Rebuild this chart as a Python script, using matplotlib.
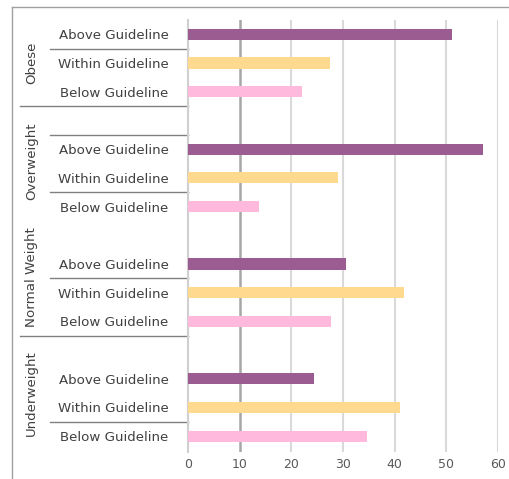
import matplotlib
matplotlib.use("Agg")
import matplotlib.pyplot as plt
import matplotlib.transforms as mtransforms
from matplotlib.lines import Line2D

# data, top to bottom as in the chart
groups = ["Obese", "Overweight", "Normal Weight", "Underweight"]
levels = ["Above Guideline", "Within Guideline", "Below Guideline"]
obese = [51, 27.4, 22]
overweight = [57, 29, 13.7]
normal = [30.6, 41.8, 27.6]
underweight = [24.4, 41, 34.6]
xticks = [0, 10, 20, 30, 40, 50, 60]

colors = ["#9b5c91", "#ffd98e", "#ffb9dc"]
txt = "#404040"

fig = plt.figure(figsize=(5.09, 4.79), dpi=100)
ax = fig.add_axes([0.3694, 0.0564, 0.6090, 0.9018])

# slots from bottom: 3 bars per group plus one empty slot between groups
ypos = []
labels = []
vals = []
cols = []
slot = 14
for g, v in zip(groups, [obese, overweight, normal, underweight]):
    for i in range(3):
        ypos.append(slot)
        labels.append(levels[i])
        vals.append(v[i])
        cols.append(colors[i])
        slot -= 1
    slot -= 1

ax.barh(ypos, vals, height=0.39, color=cols, zorder=3)
ax.set_ylim(-0.55, 14.5)
ax.set_xlim(0, 60)
ax.set_xticks(xticks)
ax.set_yticks(ypos)
ax.set_yticklabels(labels, fontsize=9.6, color=txt)
ax.tick_params(axis="y", length=0, pad=14)
ax.tick_params(axis="x", length=0, pad=4, labelsize=9, labelcolor="#595959")
for s in ["top", "right", "bottom"]:
    ax.spines[s].set_visible(False)
ax.spines["left"].set_color("#d0d0d0")
ax.spines["left"].set_linewidth(1.5)
ax.grid(axis="x", color="#d9d9d9", linewidth=1.5, zorder=0)
ax.set_axisbelow(True)
gl = ax.get_xgridlines()
gl[1].set_color("#a6a6a6")
gl[1].set_linewidth(1.8)

# group labels and separators in the label area
trans = mtransforms.blended_transform_factory(ax.transAxes, ax.transData)
group_y = [13.02, 9.57, 5.55, 1.5]
for g, gy in zip(groups, group_y):
    ax.text(-0.505, gy, g, transform=trans, rotation=90, ha="center",
            va="center", fontsize=9.6, color=txt)

short_lines = [13.5, 10.5, 8.5, 5.5, 0.5]
long_lines = [11.5, 3.5]
for yl in short_lines:
    ax.plot([-0.445, 0], [yl, yl], transform=trans, color="#808080",
            linewidth=1, clip_on=False)
for yl in long_lines:
    ax.plot([-0.542, 0], [yl, yl], transform=trans, color="#808080",
            linewidth=1, clip_on=False)

# chart area border
fig.add_artist(Line2D([12 / 509, 1], [1 - 7 / 479, 1 - 7 / 479],
                      transform=fig.transFigure, color="#a0a0a0", linewidth=1))
fig.add_artist(Line2D([12 / 509, 12 / 509], [0, 1 - 7 / 479],
                      transform=fig.transFigure, color="#a0a0a0", linewidth=1))

fig.savefig("out.png", dpi=100)
